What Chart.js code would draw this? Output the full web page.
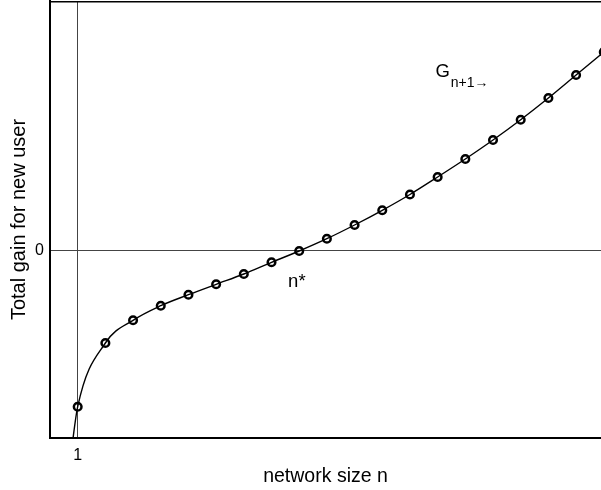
<!DOCTYPE html>
<html>
<head>
<meta charset="utf-8">
<script src="https://cdn.jsdelivr.net/npm/chart.js@4/dist/chart.umd.min.js"></script>
<style>
  html, body { margin: 0; padding: 0; background: #fff; }
  #wrap { width: 601px; height: 490px; }
</style>
</head>
<body>
<div id="wrap"><canvas id="c" width="601" height="490"></canvas></div>
<script>
// ---- data ----
const networkSize = [1, 2, 3, 4, 5, 6, 7, 8, 9, 10, 11, 12, 13, 14, 15, 16, 17, 18, 19, 20];
const totalGain   = [-155.7, -92, -69.3, -54.7, -43.7, -33.3, -23, -11.3, 0, 12.3, 26, 40.7, 56.5, 74, 92, 111, 131.3, 153, 176, 199];
// continuation of the curve below n = 1 (leaves the plot at the bottom)
const curveLeadN    = [0.77];
const curveLeadGain = [-200];
const xTickValues = [1];
const xTickLabels = ['1'];
const yTickValues = [0];
const yTickLabels = ['0'];

const FONT = "'Liberation Sans', Arial, Helvetica, sans-serif";

const markerData = networkSize.map((n, i) => ({ x: n, y: totalGain[i] }));
const curveData = curveLeadN.map((n, i) => ({ x: n, y: curveLeadGain[i] })).concat(markerData);

function zeroPad(scale) {
  scale.paddingTop = 0; scale.paddingBottom = 0;
  scale.paddingLeft = 0; scale.paddingRight = 0;
}

const framePlugin = {
  id: 'frame',
  afterDatasetsDraw(chart) {
    const { ctx, chartArea, scales } = chart;
    ctx.save();
    // top frame line
    ctx.strokeStyle = '#000';
    ctx.lineWidth = 1.5;
    ctx.beginPath();
    ctx.moveTo(chartArea.left, chartArea.top + 0.75);
    ctx.lineTo(chartArea.right, chartArea.top + 0.75);
    ctx.stroke();
    // annotations
    ctx.fillStyle = '#000';
    ctx.textBaseline = 'alphabetic';
    ctx.textAlign = 'left';
    ctx.font = '18.5px ' + FONT;
    ctx.fillText('n*', scales.x.getPixelForValue(8.6), scales.y.getPixelForValue(-36));
    const gx = scales.x.getPixelForValue(13.92);
    const gy = scales.y.getPixelForValue(174);
    ctx.font = '18.5px ' + FONT;
    ctx.fillText('G', gx, gy);
    const gw = ctx.measureText('G').width;
    ctx.font = '14px ' + FONT;
    ctx.fillText('n+1\u2192', gx + gw + 1, gy + 10);
    ctx.restore();
  }
};

new Chart(document.getElementById('c'), {
  type: 'scatter',
  data: {
    datasets: [
      {
        label: 'curve',
        data: curveData,
        showLine: true,
        borderColor: '#000',
        borderWidth: 1.4,
        pointRadius: 0,
        cubicInterpolationMode: 'monotone',
        fill: false
      },
      {
        label: 'G',
        data: markerData,
        showLine: false,
        pointStyle: 'circle',
        pointRadius: 3.8,
        pointBorderWidth: 2.5,
        pointBorderColor: '#000',
        pointBackgroundColor: 'rgba(0,0,0,0)',
        clip: false
      }
    ]
  },
  options: {
    responsive: false,
    animation: false,
    devicePixelRatio: 1,
    layout: { autoPadding: false, padding: { top: 1, right: 0, left: 0, bottom: 0 } },
    plugins: { legend: { display: false }, tooltip: { enabled: false } },
    scales: {
      x: {
        type: 'linear',
        min: 0,
        max: 19.9,
        afterFit(scale) { scale.height = 52; zeroPad(scale); },
        afterBuildTicks(scale) { scale.ticks = xTickValues.map(v => ({ value: v })); },
        ticks: {
          color: '#000',
          font: { family: FONT, size: 16 },
          padding: 8,
          maxRotation: 0,
          callback: (v) => { const i = xTickValues.indexOf(v); return i >= 0 ? xTickLabels[i] : ''; }
        },
        grid: { color: '#444', lineWidth: 1, drawTicks: false },
        border: { display: true, color: '#000', width: 2 },
        title: {
          display: true,
          text: 'network size n',
          color: '#000',
          font: { family: FONT, size: 19.5 },
          padding: { top: 0, bottom: 2 }
        }
      },
      y: {
        type: 'linear',
        min: -187,
        max: 250,
        afterFit(scale) { scale.width = 50; zeroPad(scale); },
        afterBuildTicks(scale) { scale.ticks = yTickValues.map(v => ({ value: v })); },
        ticks: {
          color: '#000',
          font: { family: FONT, size: 16 },
          padding: 6,
          callback: (v) => { const i = yTickValues.indexOf(v); return i >= 0 ? yTickLabels[i] : ''; }
        },
        grid: { color: '#444', lineWidth: 1, drawTicks: false },
        border: { display: true, color: '#000', width: 2 },
        title: {
          display: true,
          text: 'Total gain for new user',
          color: '#000',
          font: { family: FONT, size: 20 },
          padding: { top: 7, bottom: 0 }
        }
      }
    }
  },
  plugins: [framePlugin]
});
</script>
</body>
</html>
